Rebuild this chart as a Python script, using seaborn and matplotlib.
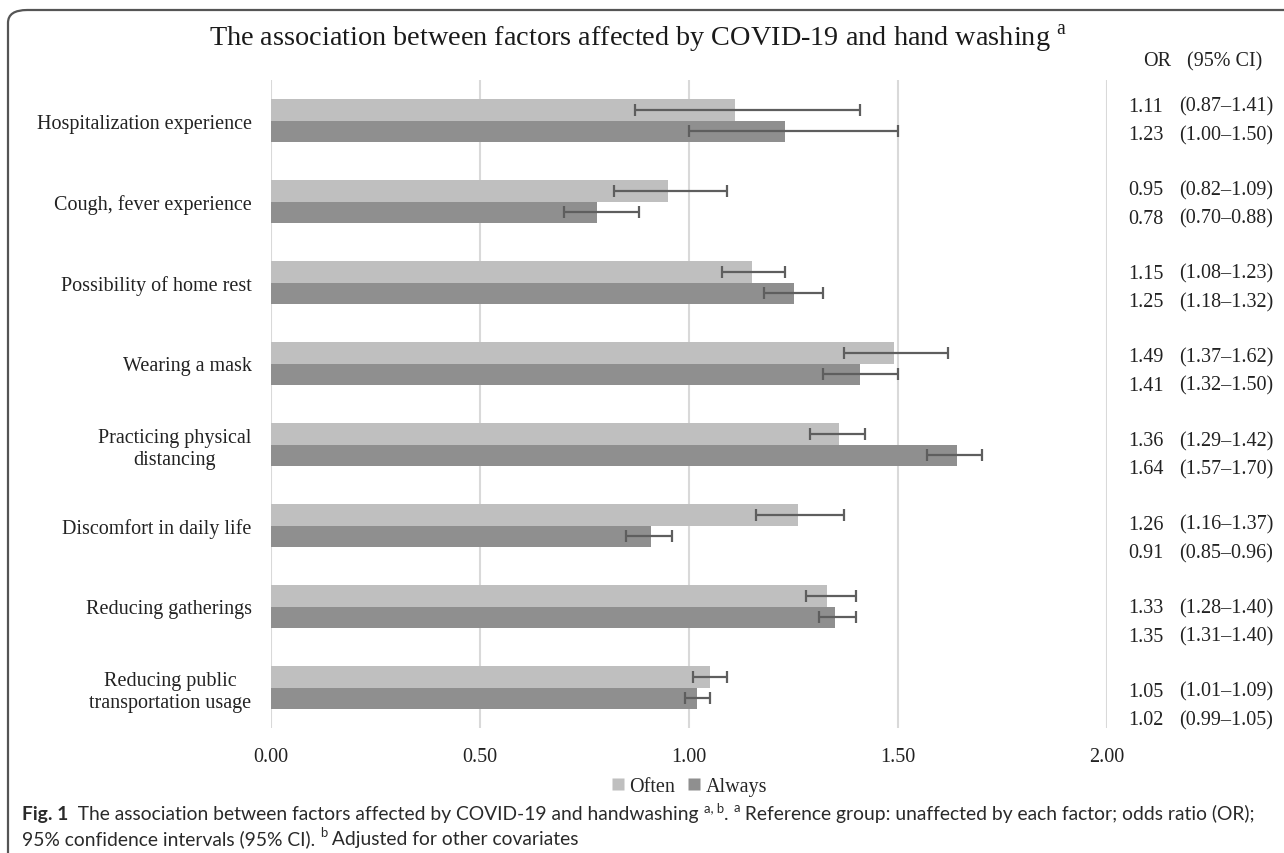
import matplotlib
matplotlib.use("Agg")
import matplotlib.pyplot as plt
import seaborn as sns
import pandas as pd
from matplotlib.patches import FancyBboxPatch
from matplotlib.lines import Line2D

# ---------------- data ----------------
categories = [
    "Hospitalization experience",
    "Cough, fever experience",
    "Possibility of home rest",
    "Wearing a mask",
    "Practicing physical\ndistancing",
    "Discomfort in daily life",
    "Reducing gatherings",
    "Reducing public\ntransportation usage",
]
groups = ["Often", "Always"]
often_or = [1.11, 0.95, 1.15, 1.49, 1.36, 1.26, 1.33, 1.05]
often_lo = [0.87, 0.82, 1.08, 1.37, 1.29, 1.16, 1.28, 1.01]
often_hi = [1.41, 1.09, 1.23, 1.62, 1.42, 1.37, 1.40, 1.09]
always_or = [1.23, 0.78, 1.25, 1.41, 1.64, 0.91, 1.35, 1.02]
always_lo = [1.00, 0.70, 1.18, 1.32, 1.57, 0.85, 1.31, 0.99]
always_hi = [1.50, 0.88, 1.32, 1.50, 1.70, 0.96, 1.40, 1.05]
x_ticks = [0.0, 0.5, 1.0, 1.5, 2.0]
x_tick_labels = ["0.00", "0.50", "1.00", "1.50", "2.00"]
title = "The association between factors affected by COVID-19 and hand washing"
colors = {"Often": "#BFBFBF", "Always": "#8F8F8F"}

df = pd.DataFrame({
    "factor": categories * 2,
    "group": ["Often"] * len(categories) + ["Always"] * len(categories),
    "OR": often_or + always_or,
})

# ---------------- figure ----------------
sns.set_style("white")
plt.rcParams["font.family"] = ["Liberation Serif", "DejaVu Serif"]
plt.rcParams["mathtext.fontset"] = "custom"
plt.rcParams["mathtext.rm"] = "Liberation Serif"

W, H = 1284, 854
fig = plt.figure(figsize=(W / 100, H / 100), dpi=100)
fig.patch.set_facecolor("white")

def fx(px):
    return px / W

def fy(py):
    return 1 - py / H

ax = fig.add_axes([fx(271), fy(729), fx(1107) - fx(271), fy(81) - fy(729)])

sns.barplot(data=df, y="factor", x="OR", hue="group", order=categories,
            hue_order=groups, palette=colors, orient="h", width=0.52,
            errorbar=None, linewidth=0, saturation=1, legend=False, ax=ax)

for cont, ors, los, his in zip(ax.containers, [often_or, always_or],
                               [often_lo, always_lo], [often_hi, always_hi]):
    ys = [p.get_y() + p.get_height() / 2 for p in cont.patches]
    xerr = [[o - l for o, l in zip(ors, los)], [h - o for o, h in zip(ors, his)]]
    ax.errorbar(ors, ys, xerr=xerr, fmt="none", ecolor="#5E5E5E",
                elinewidth=1.6, capsize=4, capthick=1.6, zorder=3)

ax.set_xlim(0, 2)
ax.set_ylim(len(categories) - 0.5, -0.5)
ax.set_xticks(x_ticks)
ax.set_xticklabels(x_tick_labels)
ax.xaxis.grid(True, color="#D9D9D9", linewidth=1.5)
ax.yaxis.grid(False)
ax.set_axisbelow(True)
for s in ax.spines.values():
    s.set_visible(False)
ax.tick_params(axis="x", length=0, pad=14, labelsize=14.5, colors="#222222")
ax.tick_params(axis="y", length=0, pad=14, labelsize=14.5, colors="#222222")
for lbl in ax.get_yticklabels():
    lbl.set_multialignment("center")
ax.set_xlabel("")
ax.set_ylabel("")

# legend
handles = [Line2D([0], [0], marker="s", color="none", markerfacecolor=colors[g],
                  markeredgecolor="none", markersize=8.5) for g in groups]
ax.legend(handles, groups, loc="center", bbox_to_anchor=(0.5, (fy(787) - fy(729)) / (fy(81) - fy(729))),
          ncol=2, frameon=False, fontsize=14.5, handlelength=0.7, handletextpad=0.2,
          columnspacing=0.6, borderaxespad=0)

# title
fig.text(fx(638), fy(39), title + r" $^{\mathrm{a}}$", ha="center", va="center",
         fontsize=20.3, color="#1a1a1a")

# right-hand OR table
fig.text(fx(1143), fy(62), "OR", ha="left", va="center", fontsize=14.5, color="#222222")
fig.text(fx(1187), fy(62), "(95% CI)", ha="left", va="center", fontsize=14.5, color="#222222")
row0, block, line = 107, 83.6, 28.5
for i in range(len(categories)):
    for j, (ors, los, his) in enumerate([(often_or, often_lo, often_hi),
                                         (always_or, always_lo, always_hi)]):
        y = row0 + i * block + j * line
        fig.text(fx(1128), fy(y), f"{ors[i]:.2f}", ha="left", va="center",
                 fontsize=14.5, color="#222222")
        fig.text(fx(1179), fy(y), f"({los[i]:.2f}\u2013{his[i]:.2f})", ha="left",
                 va="center", fontsize=14.5, color="#222222")

# outer rounded frame
frame = FancyBboxPatch((fx(8), fy(900)), fx(1320) - fx(8), fy(11) - fy(900),
                       boxstyle="round,pad=0,rounding_size=0.015",
                       transform=fig.transFigure, facecolor="none",
                       edgecolor="#555555", linewidth=1.6, clip_on=False)
fig.patches.append(frame)

# caption (pieces laid out left to right)
cap_font = ["Lato", "DejaVu Sans"]
renderer = fig.canvas.get_renderer()

def draw_line(pieces, x0, ypx, size):
    x = x0
    for txt, kind in pieces:
        kw = dict(fontsize=size, family=cap_font, color="#2a2a2a",
                  va="baseline", ha="left")
        yy = ypx
        if kind == "bold":
            kw["fontweight"] = "bold"
        elif kind == "sup":
            kw["fontsize"] = size * 0.68
            yy = ypx - size * 0.55
        t = fig.text(fx(x), fy(yy), txt, **kw)
        bb = t.get_window_extent(renderer=renderer)
        x += bb.width
    return x

line1 = [("Fig. 1", "bold"), ("  The association between factors affected by COVID-19 and handwashing ", "n"),
         ("a, b", "sup"), (". ", "n"), ("a", "sup"),
         (" Reference group: unaffected by each factor; odds ratio (OR);", "n")]
line2 = [("95% confidence intervals (95% CI). ", "n"), ("b", "sup"), (" Adjusted for other covariates", "n")]

# fit caption width to reference span (22 -> 1262 px)
probe_size = 12.0
tmp = fig.text(0, 0, "".join(p[0] for p in line1), fontsize=probe_size, family=cap_font)
wprobe = tmp.get_window_extent(renderer=renderer).width
tmp.remove()
cap_size = min(probe_size * 1240 / wprobe, 14.5)
draw_line(line1, 22, 820, cap_size)
draw_line(line2, 22, 845, cap_size)

fig.savefig("out.png", dpi=100, facecolor="white")
